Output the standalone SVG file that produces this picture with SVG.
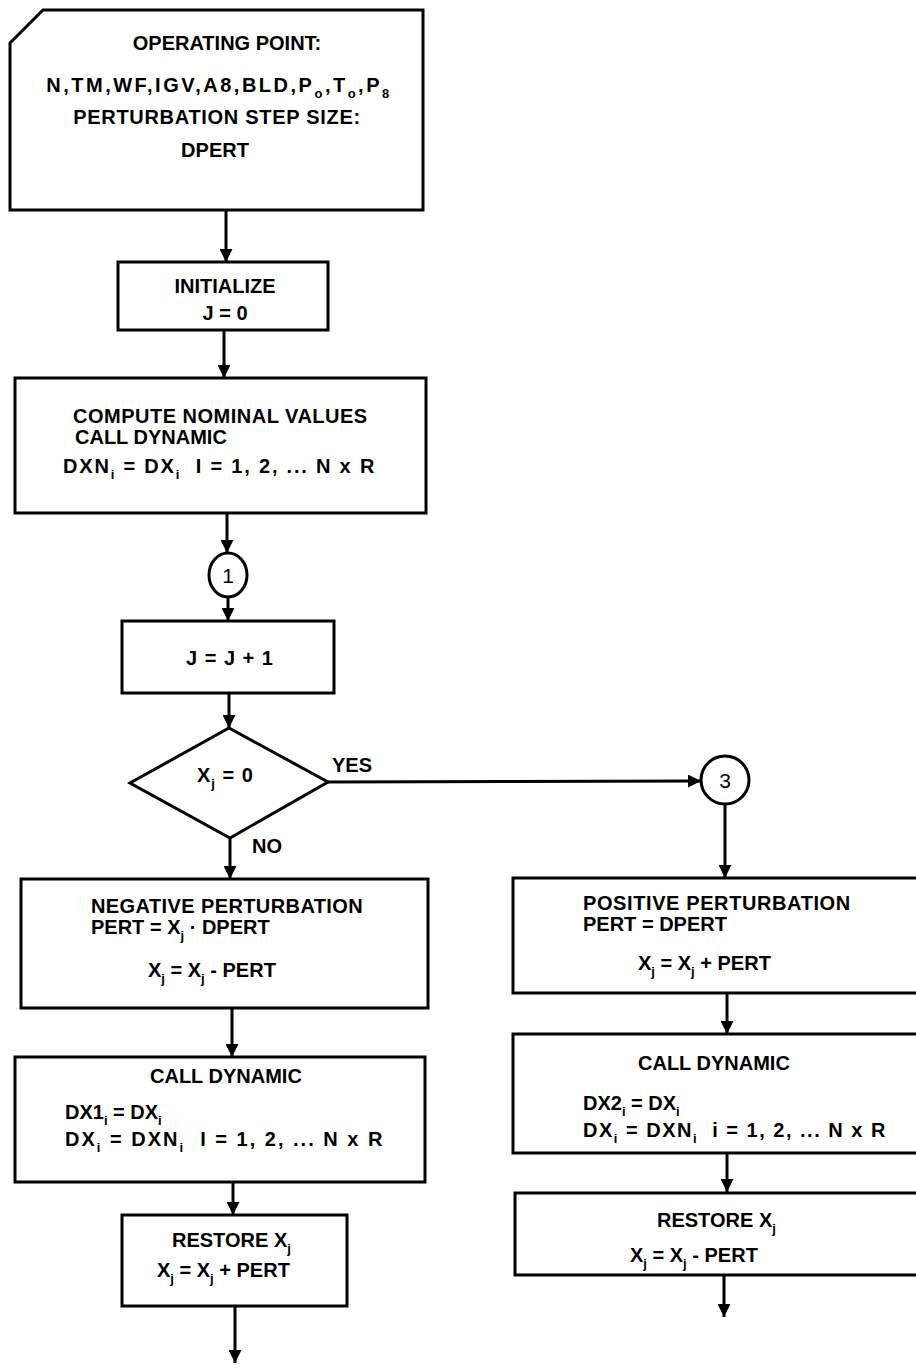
<svg xmlns="http://www.w3.org/2000/svg" width="916" height="1368" viewBox="0 0 916 1368">
<style>
  .box { fill: #fff; stroke: #000; stroke-width: 3; }
  .ln { fill: none; stroke: #000; stroke-width: 3; }
  text { font-family: "Liberation Sans", Arial, sans-serif; font-weight: bold; font-size: 20px; fill: #000; white-space: pre; }
  .s { font-size: 13px; }
  .c { text-anchor: middle; }
  .wide { letter-spacing: 2px; }
  .num { font-weight: normal; font-size: 21px; }
</style>
<defs>
  <marker id="ah" viewBox="0 0 10 10" refX="10" refY="5" markerUnits="userSpaceOnUse" markerWidth="14" markerHeight="13" orient="auto">
    <path d="M0,0 L10,5 L0,10 Z" fill="#000"/>
  </marker>
</defs>
<rect width="916" height="1368" fill="#fff"/>

<g id="connectors">
  <line class="ln" x1="226" y1="210" x2="226" y2="262" marker-end="url(#ah)"/>
  <line class="ln" x1="224" y1="330" x2="224" y2="378" marker-end="url(#ah)"/>
  <line class="ln" x1="227" y1="513" x2="227" y2="553" marker-end="url(#ah)"/>
  <line class="ln" x1="228" y1="597" x2="228" y2="621" marker-end="url(#ah)"/>
  <line class="ln" x1="229" y1="693" x2="229" y2="728" marker-end="url(#ah)"/>
  <line class="ln" x1="230" y1="838" x2="230" y2="879" marker-end="url(#ah)"/>
  <line class="ln" x1="328" y1="782" x2="701" y2="781" marker-end="url(#ah)"/>
  <line class="ln" x1="725" y1="804" x2="725" y2="878" marker-end="url(#ah)"/>
  <line class="ln" x1="727" y1="993" x2="727" y2="1034" marker-end="url(#ah)"/>
  <line class="ln" x1="727" y1="1153" x2="727" y2="1192" marker-end="url(#ah)"/>
  <line class="ln" x1="724" y1="1275" x2="724" y2="1317" marker-end="url(#ah)"/>
  <line class="ln" x1="232" y1="1008" x2="232" y2="1057" marker-end="url(#ah)"/>
  <line class="ln" x1="233" y1="1182" x2="233" y2="1215" marker-end="url(#ah)"/>
  <line class="ln" x1="235" y1="1306" x2="235" y2="1363" marker-end="url(#ah)"/>
  <text x="332" y="772">YES</text>
  <text x="252" y="853">NO</text>
</g>

<g id="input">
  <path class="box" d="M10,43 L43,10 L423,10 L423,210 L10,210 Z"/>
  <text class="c" x="227" y="50">OPERATING POINT:</text>
  <text class="c" x="219" y="92" style="letter-spacing:2.5px">N,TM,WF,IGV,A8,BLD,P<tspan class="s" dy="6">o</tspan><tspan dy="-6">,T</tspan><tspan class="s" dy="6">o</tspan><tspan dy="-6">,P</tspan><tspan class="s" dy="6">8</tspan></text>
  <text class="c" x="217" y="124" style="letter-spacing:0.7px">PERTURBATION STEP SIZE:</text>
  <text class="c" x="215" y="157">DPERT</text>
</g>

<g id="initialize">
  <rect class="box" x="118" y="262" width="210" height="68"/>
  <text class="c" x="225" y="293">INITIALIZE</text>
  <text class="c" x="225" y="320">J = 0</text>
</g>

<g id="compute">
  <rect class="box" x="15" y="378" width="411" height="135"/>
  <text x="73" y="423" style="letter-spacing:0.5px">COMPUTE NOMINAL VALUES</text>
  <text x="75" y="444">CALL DYNAMIC</text>
  <text x="63" y="473" style="letter-spacing:1.8px">DXN<tspan class="s" dy="6">i</tspan><tspan dy="-6"> = DX</tspan><tspan class="s" dy="6">i</tspan><tspan dy="-6">  I = 1, 2, ... N x R</tspan></text>
</g>

<g id="connector1">
  <ellipse class="box" cx="228" cy="575" rx="19" ry="22"/>
  <text class="c num" x="228" y="583">1</text>
</g>

<g id="increment">
  <rect class="box" x="122" y="621" width="212" height="72"/>
  <text class="c" x="230" y="665" style="letter-spacing:1px">J = J + 1</text>
</g>

<g id="decision">
  <path class="box" d="M229,728 L328,782 L230,838 L130,783 Z"/>
  <text x="197" y="782" style="letter-spacing:1px">X<tspan class="s" dy="6">j</tspan><tspan dy="-6"> = 0</tspan></text>
</g>

<g id="negative">
  <rect class="box" x="21" y="879" width="407" height="129"/>
  <text x="91" y="913" style="letter-spacing:0.4px">NEGATIVE PERTURBATION</text>
  <text x="91" y="934">PERT = X<tspan class="s" dy="6">j</tspan><tspan dy="-6"> · DPERT</tspan></text>
  <text x="148" y="977">X<tspan class="s" dy="6">j</tspan><tspan dy="-6"> = X</tspan><tspan class="s" dy="6">j</tspan><tspan dy="-6"> - PERT</tspan></text>
</g>

<g id="call-left">
  <rect class="box" x="15" y="1057" width="410" height="125"/>
  <text x="150" y="1083">CALL DYNAMIC</text>
  <text x="65" y="1119">DX1<tspan class="s" dy="6">i</tspan><tspan dy="-6"> = DX</tspan><tspan class="s" dy="6">i</tspan></text>
  <text x="65" y="1146" class="wide">DX<tspan class="s" dy="6">i</tspan><tspan dy="-6"> = DXN</tspan><tspan class="s" dy="6">i</tspan><tspan dy="-6">  I = 1, 2, ... N x R</tspan></text>
</g>

<g id="restore-left">
  <rect class="box" x="122" y="1215" width="225" height="91"/>
  <text x="172" y="1247">RESTORE X<tspan class="s" dy="6">j</tspan></text>
  <text x="157" y="1277">X<tspan class="s" dy="6">j</tspan><tspan dy="-6"> = X</tspan><tspan class="s" dy="6">j</tspan><tspan dy="-6"> + PERT</tspan></text>
</g>

<g id="connector3">
  <circle class="box" cx="725" cy="780" r="24"/>
  <text class="c num" x="725" y="788">3</text>
</g>

<g id="positive">
  <rect class="box" x="513" y="878" width="410" height="115"/>
  <text x="583" y="910" style="letter-spacing:0.6px">POSITIVE PERTURBATION</text>
  <text x="583" y="931">PERT = DPERT</text>
  <text x="638" y="970">X<tspan class="s" dy="6">j</tspan><tspan dy="-6"> = X</tspan><tspan class="s" dy="6">j</tspan><tspan dy="-6"> + PERT</tspan></text>
</g>

<g id="call-right">
  <rect class="box" x="513" y="1034" width="410" height="119"/>
  <text x="638" y="1070">CALL DYNAMIC</text>
  <text x="583" y="1110">DX2<tspan class="s" dy="6">i</tspan><tspan dy="-6"> = DX</tspan><tspan class="s" dy="6">i</tspan></text>
  <text x="583" y="1137" style="letter-spacing:1.5px">DX<tspan class="s" dy="6">i</tspan><tspan dy="-6"> = DXN</tspan><tspan class="s" dy="6">i</tspan><tspan dy="-6">  i = 1, 2, ... N x R</tspan></text>
</g>

<g id="restore-right">
  <rect class="box" x="515" y="1193" width="410" height="82"/>
  <text x="657" y="1227">RESTORE X<tspan class="s" dy="6">j</tspan></text>
  <text x="630" y="1262">X<tspan class="s" dy="6">j</tspan><tspan dy="-6"> = X</tspan><tspan class="s" dy="6">j</tspan><tspan dy="-6"> - PERT</tspan></text>
</g>
</svg>
